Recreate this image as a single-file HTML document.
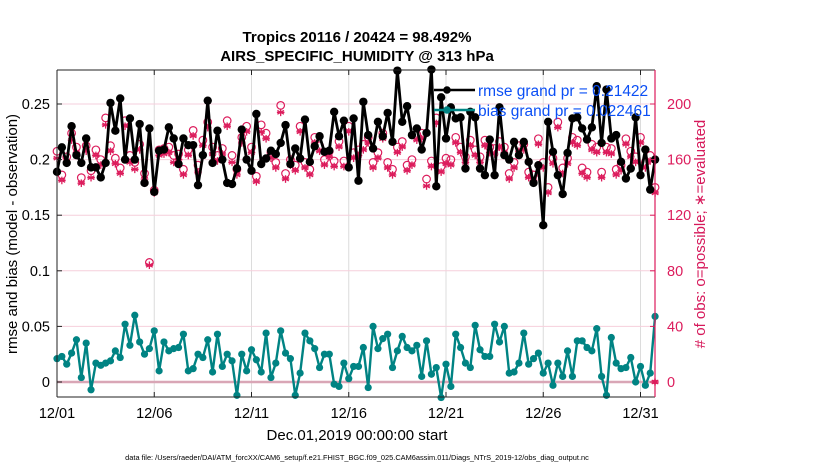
<!DOCTYPE html>
<html><head><meta charset="utf-8"><style>
html,body{margin:0;padding:0;background:#fff;width:830px;height:470px;overflow:hidden}
svg{font-family:"Liberation Sans",Arial,sans-serif}
</style></head><body>
<svg id="chart" width="830" height="470" viewBox="0 0 830 470" xmlns="http://www.w3.org/2000/svg">
<text x="357" y="42" text-anchor="middle" font-size="15" font-weight="bold">Tropics 20116 / 20424 = 98.492%</text>
<text x="357" y="61" text-anchor="middle" font-size="15" font-weight="bold">AIRS_SPECIFIC_HUMIDITY @ 313 hPa</text>
<text transform="translate(17,234) rotate(-90)" text-anchor="middle" font-size="15">rmse and bias (model - observation)</text>
<text transform="translate(705,234) rotate(-90)" text-anchor="middle" font-size="15" fill="#d6185a"># of obs: o=possible; ∗=evaluated</text>
<text x="357" y="440" text-anchor="middle" font-size="15">Dec.01,2019 00:00:00 start</text>
<text x="357" y="460" text-anchor="middle" font-size="7.4">data file: /Users/raeder/DAI/ATM_forcXX/CAM6_setup/f.e21.FHIST_BGC.f09_025.CAM6assim.011/Diags_NTrS_2019-12/obs_diag_output.nc</text>
<g id="grid"></g><g id="series"></g><g id="axes"></g><g id="legend"></g>
</svg>
<script>
const xTickLabels=["12/01","12/06","12/11","12/16","12/21","12/26","12/31"];
const xTickDays=[0,5,10,15,20,25,30];
const leftTicks=[0,0.05,0.1,0.15,0.2,0.25];
const leftTickLabels=["0","0.05","0.1","0.15","0.2","0.25"];
const rightTicks=[0,40,80,120,160,200];
const rmse=[.189,.211,.197,.230,.204,.197,.219,.193,.193,.184,.197,.251,.226,.255,.200,.237,.200,.232,.179,.228,.171,.208,.209,.229,.219,.196,.219,.213,.213,.177,.204,.253,
.197,.226,.200,.179,.178,.192,.227,.200,.190,.241,.196,.201,.208,.205,.215,.231,.196,.210,.201,.236,.198,.212,.221,.207,.208,.243,.221,.235,.193,.237,.181,
.252,.222,.210,.234,.221,.242,.216,.280,.234,.248,.222,.228,.209,.224,.281,
.176,.256,.219,.247,.237,.238,.192,.243,.238,.192,.186,.218,.186,.247,.204,.200,.216,.204,.216,.198,.179,.195,.141,.234,.207,.186,.169,.206,.237,.238,.228,.218,.229,.266,.215,.263,.219,.222,.198,.183,.192,.238,.186,.209,.173,.200];
const bias=[.021,.023,.016,.026,.038,.004,.035,-.007,.017,.015,.017,.019,.028,.022,.052,.033,.060,.036,.025,.030,.046,.010,.036,.028,.030,.031,.043,.010,.012,.025,.022,.038,.009,.043,.014,.025,.019,-.012,.025,.010,.029,.020,.009,.044,.004,.017,.046,.026,.021,-.012,.008,.044,.037,.030,.013,.025,.025,-.002,-.004,.017,.003,.014,.014,
.031,-.005,.050,.030,.039,.043,.013,.028,.041,.031,.028,.033,.005,.037,.007,.013,-.014,.016,-.004,.043,.031,.017,.013,.051,.029,.023,.023,.052,.036,.050,.008,.009,.017,.044,.016,.021,.026,.008,.017,-.003,.017,.005,.028,.005,.037,.037,.031,.028,.048,.005,-.012,.040,.017,.012,.013,.022,.000,.014,-.003,.008,.059];
const possible=[166,149,162,179,169,147,170,152,167,160,190,170,161,154,188,163,158,171,150,86,138,167,168,169,163,164,153,167,181,156,174,187,
169,163,168,188,163,153,176,184,169,148,185,179,165,158,199,150,160,156,184,158,153,176,170,160,166,159,173,159,184,165,167,
171,176,158,165,179,158,153,169,173,156,160,178,179,146,159,
190,155,161,160,176,169,162,174,167,162,174,169,168,173,169,150,158,170,171,151,149,175,158,140,161,187,154,161,176,174,154,151,171,169,151,169,168,153,156,175,166,162,176,158,163,140];
const evaluated=[161,145,158,174,165,143,166,147,163,156,185,166,157,150,184,158,153,167,146,84,136,163,164,165,158,160,149,163,177,151,170,183,
164,159,164,184,158,149,172,180,165,144,180,175,161,154,194,146,156,152,180,154,149,172,166,156,162,155,169,155,180,161,163,
167,172,154,161,175,154,149,165,169,152,156,174,175,141,155,
186,151,157,156,172,165,158,170,163,158,170,165,164,169,165,146,154,166,167,147,145,171,154,136,157,183,150,157,172,170,150,147,167,165,147,165,164,149,152,171,162,158,172,154,159,136];
const NS="http://www.w3.org/2000/svg";
const X0=57,X1=655,Y0=70,Y1=397,DAY=19.45;
const xOf=d=>X0+d*DAY;
const yL=v=>382-v*1112;
const yR=c=>382-c*1.39;
function mk(tag,attrs,parent){const e=document.createElementNS(NS,tag);for(const k in attrs)e.setAttribute(k,attrs[k]);parent.appendChild(e);return e;}
const grid=document.getElementById('grid'),ser=document.getElementById('series'),ax=document.getElementById('axes'),lg=document.getElementById('legend');
xTickDays.forEach((d,i)=>{if(i===0)return;const l=mk('line',{x1:xOf(d),x2:xOf(d),y1:Y0,y2:Y1,stroke:'#dcdcdc','stroke-width':1},grid);

});
rightTicks.forEach(c=>{const l=mk('line',{x1:X0,x2:X1,y1:yR(c),y2:yR(c),stroke:c===0?'#d9a6b6':'#f6cfdc','stroke-width':c===0?2.5:1},grid);

});
function star(x,y,r,col,parent){const g=mk('g',{stroke:col,'stroke-width':1.3},parent);
for(let a=0;a<3;a++){const t=a*Math.PI/3+Math.PI/2;mk('line',{x1:x-r*Math.cos(t),y1:y-r*Math.sin(t),x2:x+r*Math.cos(t),y2:y+r*Math.sin(t)},g);}
mk('line',{x1:x-r,y1:y,x2:x+r,y2:y},g);return g;}
const RED='#dc1c5c';
possible.forEach((c,i)=>{const x=xOf(i*0.25);
const ci=mk('circle',{cx:x,cy:yR(c),r:3.8,fill:'none',stroke:RED,'stroke-width':1.2},ser);

});
evaluated.forEach((c,i)=>{const s=star(xOf(i*0.25),yR(c),3.8,RED,ser);

});
const z=star(X1,yR(0),3.8,RED,ser);mk('circle',{cx:X1,cy:yR(0),r:2.5,fill:RED},ser);


function line(vals,col,w,r,name){const pts=vals.map((v,i)=>xOf(i*0.25)+','+yL(v)).join(' ');
const pl=mk('polyline',{points:pts,fill:'none',stroke:col,'stroke-width':w,'stroke-linejoin':'round'},ser);


vals.forEach((v,i)=>{const c=mk('circle',{cx:xOf(i*0.25),cy:yL(v),r:r,fill:col},ser);

});}
line(bias,'#008383',2.4,3.6,'bias');
line(rmse,'#000',2.8,4.2,'rmse');
mk('line',{x1:X0,x2:X1,y1:Y0,y2:Y0,stroke:'#222','stroke-width':1},ax);
mk('line',{x1:X0,x2:X1,y1:Y1,y2:Y1,stroke:'#222','stroke-width':1},ax);
mk('line',{x1:X0,x2:X0,y1:Y0,y2:Y1,stroke:'#222','stroke-width':1},ax);
mk('line',{x1:X1,x2:X1,y1:Y0,y2:Y1,stroke:RED,'stroke-width':1.2},ax);
xTickDays.forEach((d,i)=>{const x=xOf(d);mk('line',{x1:x,x2:x,y1:Y1,y2:Y1-5,stroke:'#222'},ax);mk('line',{x1:x,x2:x,y1:Y0,y2:Y0+5,stroke:'#222'},ax);
const t=mk('text',{x:x,y:418,'text-anchor':'middle','font-size':14.5},ax);t.textContent=xTickLabels[i];

});
leftTicks.forEach((v,i)=>{const y=yL(v);mk('line',{x1:X0,x2:X0+5,y1:y,y2:y,stroke:'#222'},ax);
const t=mk('text',{x:50,y:y+5,'text-anchor':'end','font-size':14.5},ax);t.textContent=leftTickLabels[i];

});
rightTicks.forEach(c=>{const y=yR(c);mk('line',{x1:X1,x2:X1-5,y1:y,y2:y,stroke:RED},ax);
const t=mk('text',{x:667,y:y+5,'font-size':14.5,fill:RED},ax);t.textContent=String(c);

});
function leg(y,col,label,name){mk('line',{x1:434,x2:475,y1:y,y2:y,stroke:col,'stroke-width':2.5},lg);
mk('circle',{cx:447,cy:y,r:3.8,fill:col},lg);
const t=mk('text',{x:478,y:y+6,'font-size':15.5,fill:'#0b4ff5'},lg);t.textContent=label;

}
leg(90,'#000','rmse grand pr = 0.21422','legend-rmse');
leg(110,'#008383','bias grand pr = 0.022461','legend-bias');
</script>
</body></html>
